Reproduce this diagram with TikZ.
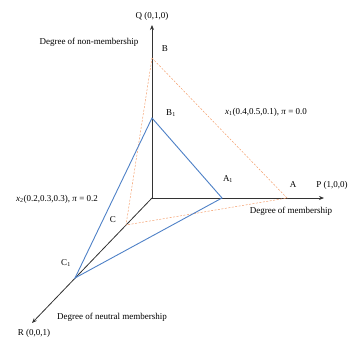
\documentclass[tikz,border=0pt]{standalone}
\usepackage{fontspec}
\setmainfont{Liberation Serif}
\usetikzlibrary{arrows.meta}
\begin{document}
\begin{tikzpicture}[
  x=1pt,y=-1pt,
  every node/.style={font=\fontsize{9}{11}\selectfont,inner sep=1pt},
  axis/.style={draw=black!80,line width=0.8pt,-{Stealth[length=5pt,width=4pt]}},
  tri/.style={draw={rgb,255:red,79;green,129;blue,199},line width=0.9pt},
  proj/.style={draw={rgb,255:red,244;green,160;blue,110},line width=0.5pt,dash pattern=on 2pt off 1.5pt}
]
\useasboundingbox (0,0) rectangle (349,338);
% axes
\coordinate (O) at (152,198);
\coordinate (Q) at (152,25);
\coordinate (P) at (324,198);
\coordinate (R) at (32,323);
\draw[axis] (O)--(Q);
\draw[axis] (O)--(P);
\draw[axis] (O)--(R);
% points
\coordinate (B) at (152,58);
\coordinate (A) at (287,198);
\coordinate (C) at (126,225);
\coordinate (B1) at (152,118);
\coordinate (A1) at (222,198);
\coordinate (C1) at (75,278);
\draw[proj] (B)--(A)--(C)--cycle;
\draw[tri] (B1)--(A1)--(C1)--cycle;
% labels
\node (lq) at (152,16) {Q (0,1,0)};
\node (lp) at (332,185) {P (1,0,0)};
\node (lr) at (34,333) {R (0,0,1)};
\node (lnon) at (89,42) {Degree of non-membership};
\node (lmem) at (291,211) {Degree of membership};
\node (lneu) at (112,317) {Degree of neutral membership};
\node (lb) at (165,49) {B};
\node (lb1) at (171,113) {B\textsubscript{1}};
\node (la) at (293,185) {A};
\node (la1) at (228,179) {A\textsubscript{1}};
\node (lc) at (113,220) {C};
\node (lc1) at (66,263) {C\textsubscript{1}};
\node (lx1) at (266,112) {\textit{x}\textsubscript{1}(0.4,0.5,0.1), \textit{π} = 0.0};
\node (lx2) at (57,199) {\textit{x}\textsubscript{2}(0.2,0.3,0.3), \textit{π} = 0.2};
\end{tikzpicture}
\end{document}
